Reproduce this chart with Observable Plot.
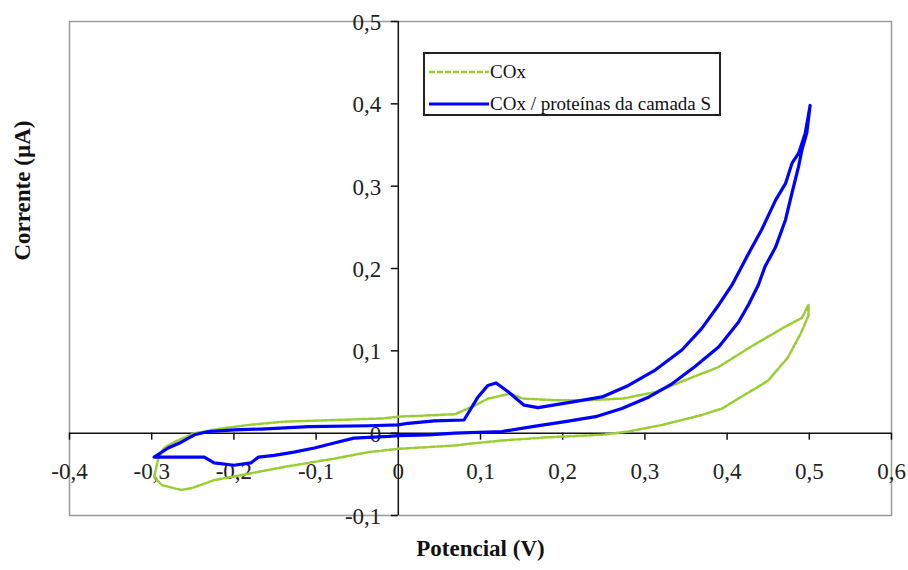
<!DOCTYPE html>
<html>
<head>
<meta charset="utf-8">
<script src="https://cdn.jsdelivr.net/npm/d3@7"></script>
<script src="https://cdn.jsdelivr.net/npm/@observablehq/plot@0.6"></script>
<style>
  html, body { margin: 0; padding: 0; background: #fff; }
  #wrap { position: relative; width: 908px; height: 570px; }
  #legend {
    position: absolute; left: 423px; top: 52px; width: 294px; height: 60px;
    border: 2px solid #222; background: #fff;
    font-family: "Liberation Serif", "Times New Roman", serif; font-size: 19px; color: #111;
  }
  .row { position: absolute; left: 4px; display: flex; align-items: center; height: 20px; }
  .row svg { display: block; margin-right: 1px; }
</style>
</head>
<body>
<div id="wrap">
  <div id="chart"></div>
  <div id="legend"></div>
</div>
<script>
const xTicks = [-0.4, -0.3, -0.2, -0.1, 0, 0.1, 0.2, 0.3, 0.4, 0.5, 0.6];
const yTicks = [-0.1, 0, 0.1, 0.2, 0.3, 0.4, 0.5];
const seriesNames = ["COx", "COx / proteínas da camada S"];
const xTitle = "Potencial (V)";
const yTitle = "Corrente (µA)";

// COx / proteínas da camada S (blue) — closed loop
const blueX = [-0.297, -0.280, -0.264, -0.248, -0.231, -0.199, -0.167, -0.109, -0.036, 0.0, 0.012, 0.044, 0.080, 0.097, 0.109, 0.119, 0.134, 0.153, 0.170, 0.207, 0.248, 0.280, 0.313, 0.345, 0.369, 0.390, 0.406, 0.426, 0.442, 0.459, 0.471, 0.479, 0.487, 0.495, 0.501,
  0.497, 0.491, 0.487, 0.479, 0.471, 0.459, 0.446, 0.438, 0.426, 0.414, 0.390, 0.361, 0.333, 0.305, 0.272, 0.240, 0.203, 0.163, 0.126, 0.069, 0.036, 0.0, -0.012, -0.054, -0.078, -0.102, -0.127, -0.151, -0.170, -0.179, -0.200, -0.224, -0.236, -0.255, -0.297];
const blueY = [-0.029, -0.018, -0.011, -0.002, 0.002, 0.004, 0.005, 0.008, 0.009, 0.010, 0.012, 0.015, 0.016, 0.044, 0.058, 0.061, 0.050, 0.034, 0.031, 0.037, 0.044, 0.058, 0.077, 0.101, 0.127, 0.156, 0.180, 0.218, 0.247, 0.283, 0.303, 0.328, 0.340, 0.364, 0.398,
  0.365, 0.344, 0.324, 0.292, 0.259, 0.226, 0.202, 0.180, 0.156, 0.135, 0.105, 0.081, 0.060, 0.044, 0.030, 0.020, 0.014, 0.008, 0.002, 0.000, -0.002, -0.003, -0.004, -0.006, -0.012, -0.018, -0.023, -0.027, -0.029, -0.036, -0.039, -0.036, -0.029, -0.029, -0.029];

// COx (green) — closed loop
const greenX = [-0.297, -0.292, -0.285, -0.273, -0.248, -0.219, -0.182, -0.139, -0.078, -0.017, 0.0, 0.069, 0.094, 0.109, 0.127, 0.137, 0.151, 0.191, 0.231, 0.273, 0.313, 0.348, 0.389, 0.429, 0.470, 0.491, 0.499,
  0.499, 0.490, 0.474, 0.450, 0.434, 0.417, 0.394, 0.369, 0.321, 0.280, 0.247, 0.182, 0.125, 0.085, 0.069, 0.0, -0.036, -0.078, -0.139, -0.191, -0.224, -0.252, -0.264, -0.288, -0.297];
const greenY = [-0.053, -0.031, -0.018, -0.011, 0.000, 0.005, 0.010, 0.014, 0.016, 0.018, 0.020, 0.023, 0.034, 0.042, 0.046, 0.048, 0.042, 0.040, 0.040, 0.042, 0.050, 0.064, 0.080, 0.105, 0.129, 0.140, 0.156,
  0.143, 0.122, 0.092, 0.064, 0.054, 0.044, 0.030, 0.022, 0.010, 0.002, -0.002, -0.005, -0.009, -0.013, -0.015, -0.019, -0.023, -0.031, -0.041, -0.051, -0.057, -0.067, -0.069, -0.063, -0.053];

const blue = blueX.map((x, i) => ({x, y: blueY[i]}));
const green = greenX.map((x, i) => ({x, y: greenY[i]}));
const fmt = d => d === 0 ? "0" : String(d).replace(".", ",");
const serif = "'Liberation Serif', 'Times New Roman', serif";
const blueColor = "#0000ff";
const greenColor = "#9acd32";

const chart = Plot.plot({
  width: 908,
  height: 570,
  marginLeft: 69,
  marginRight: 17,
  marginTop: 21,
  marginBottom: 55,
  x: {domain: [-0.4, 0.6], axis: null},
  y: {domain: [-0.1, 0.5], axis: null},
  style: {background: "#fff", overflow: "visible"},
  marks: [
    Plot.frame({stroke: "#9a9a9a", strokeWidth: 1.5}),
    Plot.ruleY([0], {x1: -0.4, x2: 0.6, stroke: "#111", strokeWidth: 1.5}),
    Plot.ruleX([0], {y1: -0.1, y2: 0.5, stroke: "#111", strokeWidth: 1.5}),
    Plot.ruleX(xTicks, {x: d => d, y1: 0, y2: -0.0085, stroke: "#111", strokeWidth: 1.5}),
    Plot.ruleY(yTicks, {y: d => d, x1: -0.0085, x2: 0, stroke: "#111", strokeWidth: 1.5}),
    Plot.text(xTicks, {x: d => d, y: 0, text: fmt, dy: 38, fontFamily: serif, fontSize: 23, fill: "#222"}),
    Plot.text(yTicks, {x: 0, y: d => d, text: fmt, dx: -17, dy: 1, textAnchor: "end", fontFamily: serif, fontSize: 23, fill: "#222"}),
    Plot.line(green, {x: "x", y: "y", stroke: greenColor, strokeWidth: 2.5, strokeDasharray: "6,2"}),
    Plot.line(blue, {x: "x", y: "y", stroke: blueColor, strokeWidth: 3.2}),
    Plot.text([xTitle], {frameAnchor: "bottom", dy: 40, text: d => d, fontFamily: serif, fontSize: 23, fontWeight: "bold", fill: "#111"}),
    Plot.text([yTitle], {frameAnchor: "left", dx: -47, dy: -8, rotate: -90, text: d => d, fontFamily: serif, fontSize: 23, fontWeight: "bold", fill: "#111"})
  ]
});
document.getElementById("chart").appendChild(chart);

// legend
const legend = document.getElementById("legend");
const styles = [
  {color: greenColor, width: 2.5, dash: "6,2", top: 8},
  {color: blueColor, width: 3.2, dash: null, top: 40}
];
seriesNames.forEach((name, i) => {
  const s = styles[i];
  const row = document.createElement("div");
  row.className = "row";
  row.style.top = s.top + "px";
  row.innerHTML = `<svg width="60" height="20"><line x1="0" x2="60" y1="10" y2="10" stroke="${s.color}" stroke-width="${s.width}" ${s.dash ? `stroke-dasharray="${s.dash}"` : ""}/></svg><span>${name}</span>`;
  legend.appendChild(row);
});
</script>
</body>
</html>
